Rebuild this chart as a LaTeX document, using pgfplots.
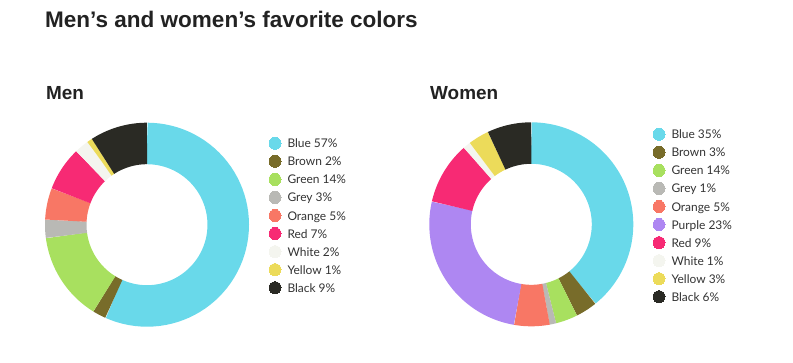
\documentclass[border=0pt]{standalone}
\usepackage{fontspec}
\setmainfont{Lato}
\newfontfamily\titlefont{Liberation Sans}
\usepackage{pgfplots}
\pgfplotsset{compat=1.18}
\definecolor{cBlue}{HTML}{69D9EA}
\definecolor{cBrown}{HTML}{786C2A}
\definecolor{cGreen}{HTML}{A8E05F}
\definecolor{cGrey}{HTML}{B9B9B5}
\definecolor{cOrange}{HTML}{F87765}
\definecolor{cPurple}{HTML}{AE87F2}
\definecolor{cRed}{HTML}{F72A74}
\definecolor{cWhite}{HTML}{F4F5EF}
\definecolor{cYellow}{HTML}{ECDB5A}
\definecolor{cBlack}{HTML}{2A2A24}
\definecolor{titletext}{HTML}{222222}
\definecolor{legtext}{HTML}{333333}
\newcommand\legfont{\fontsize{12}{14}\selectfont}
% donut: centre x, centre y, list colour/percent (as drawn)
\newcommand\donut[3]{%
  \gdef\cum{0}%
  \foreach \c/\v in {#3} {%
    \pgfmathsetmacro\a{-90+3.6*\cum}%
    \pgfmathsetmacro\b{-90+3.6*(\cum+\v)}%
    \edef\doplot{\noexpand\addplot[draw=\c, line width=41.5bp, domain=\a:\b, samples=60, forget plot] ({#1+81.25*cos(x)},{#2+81.25*sin(x)});}%
    \doplot
    \pgfmathsetmacro\newcum{\cum+\v}%
    \global\let\cum\newcum
  }%
}
\newcommand\legitem[5]{%
  \addplot[only marks, mark=*, color=#3, draw=none, fill=#3, mark size=6bp, mark options={draw=none, fill=#3, line width=0pt}, forget plot] coordinates {(#1,#2)};
  \node[anchor=base west, font=\legfont, text=legtext, inner sep=0pt] at (axis cs:#4,#2+4.5) {#5};
}
\begin{document}
\begin{tikzpicture}
\path[use as bounding box] (0,0) rectangle (793bp,363bp);
\begin{axis}[x=1bp, y=1bp, xmin=0, xmax=793, ymin=0, ymax=363, y dir=reverse,
  hide axis, clip=false, scale only axis, at={(0,0)}, anchor=south west]
\donut{147}{224.7}{cBlue/56.7, cBrown/2.1, cGreen/14.1, cGrey/2.9, cOrange/5.0, cRed/7.0, cWhite/2.3, cYellow/0.8, cBlack/9.1}
\donut{531.3}{224.3}{cBlue/39.2, cBrown/3.4, cGreen/3.5, cGrey/1.0, cOrange/5.6, cPurple/25.9, cRed/9.9, cWhite/1.2, cYellow/3.3, cBlack/7.0}
% Men legend
\legitem{275}{143.3}{cBlue}{287.3}{Blue 57\%}
\legitem{275}{161.3}{cBrown}{287.3}{Brown 2\%}
\legitem{275}{179.4}{cGreen}{287.3}{Green 14\%}
\legitem{275}{197.4}{cGrey}{287.3}{Grey 3\%}
\legitem{275}{215.5}{cOrange}{287.3}{Orange 5\%}
\legitem{275}{233.5}{cRed}{287.3}{Red 7\%}
\legitem{275}{251.6}{cWhite}{287.3}{White 2\%}
\legitem{275}{269.6}{cYellow}{287.3}{Yellow 1\%}
\legitem{275}{287.7}{cBlack}{287.3}{Black 9\%}
% Women legend
\legitem{659}{134.3}{cBlue}{671.3}{Blue 35\%}
\legitem{659}{152.3}{cBrown}{671.3}{Brown 3\%}
\legitem{659}{170.4}{cGreen}{671.3}{Green 14\%}
\legitem{659}{188.4}{cGrey}{671.3}{Grey 1\%}
\legitem{659}{206.5}{cOrange}{671.3}{Orange 5\%}
\legitem{659}{224.5}{cPurple}{671.3}{Purple 23\%}
\legitem{659}{242.6}{cRed}{671.3}{Red 9\%}
\legitem{659}{260.6}{cWhite}{671.3}{White 1\%}
\legitem{659}{278.7}{cYellow}{671.3}{Yellow 3\%}
\legitem{659}{296.7}{cBlack}{671.3}{Black 6\%}
% titles
\node[anchor=base west, inner sep=0pt, text=titletext, font=\titlefont\bfseries\fontsize{22.6}{26}\selectfont] at (axis cs:45,27.3) {Men’s and women’s favorite colors};
\node[anchor=base west, inner sep=0pt, text=titletext, font=\titlefont\bfseries\fontsize{19}{22}\selectfont] at (axis cs:46,99.5) {Men};
\node[anchor=base west, inner sep=0pt, text=titletext, font=\titlefont\bfseries\fontsize{19}{22}\selectfont] at (axis cs:430,99.5) {Women};
\end{axis}
\end{tikzpicture}
\end{document}
